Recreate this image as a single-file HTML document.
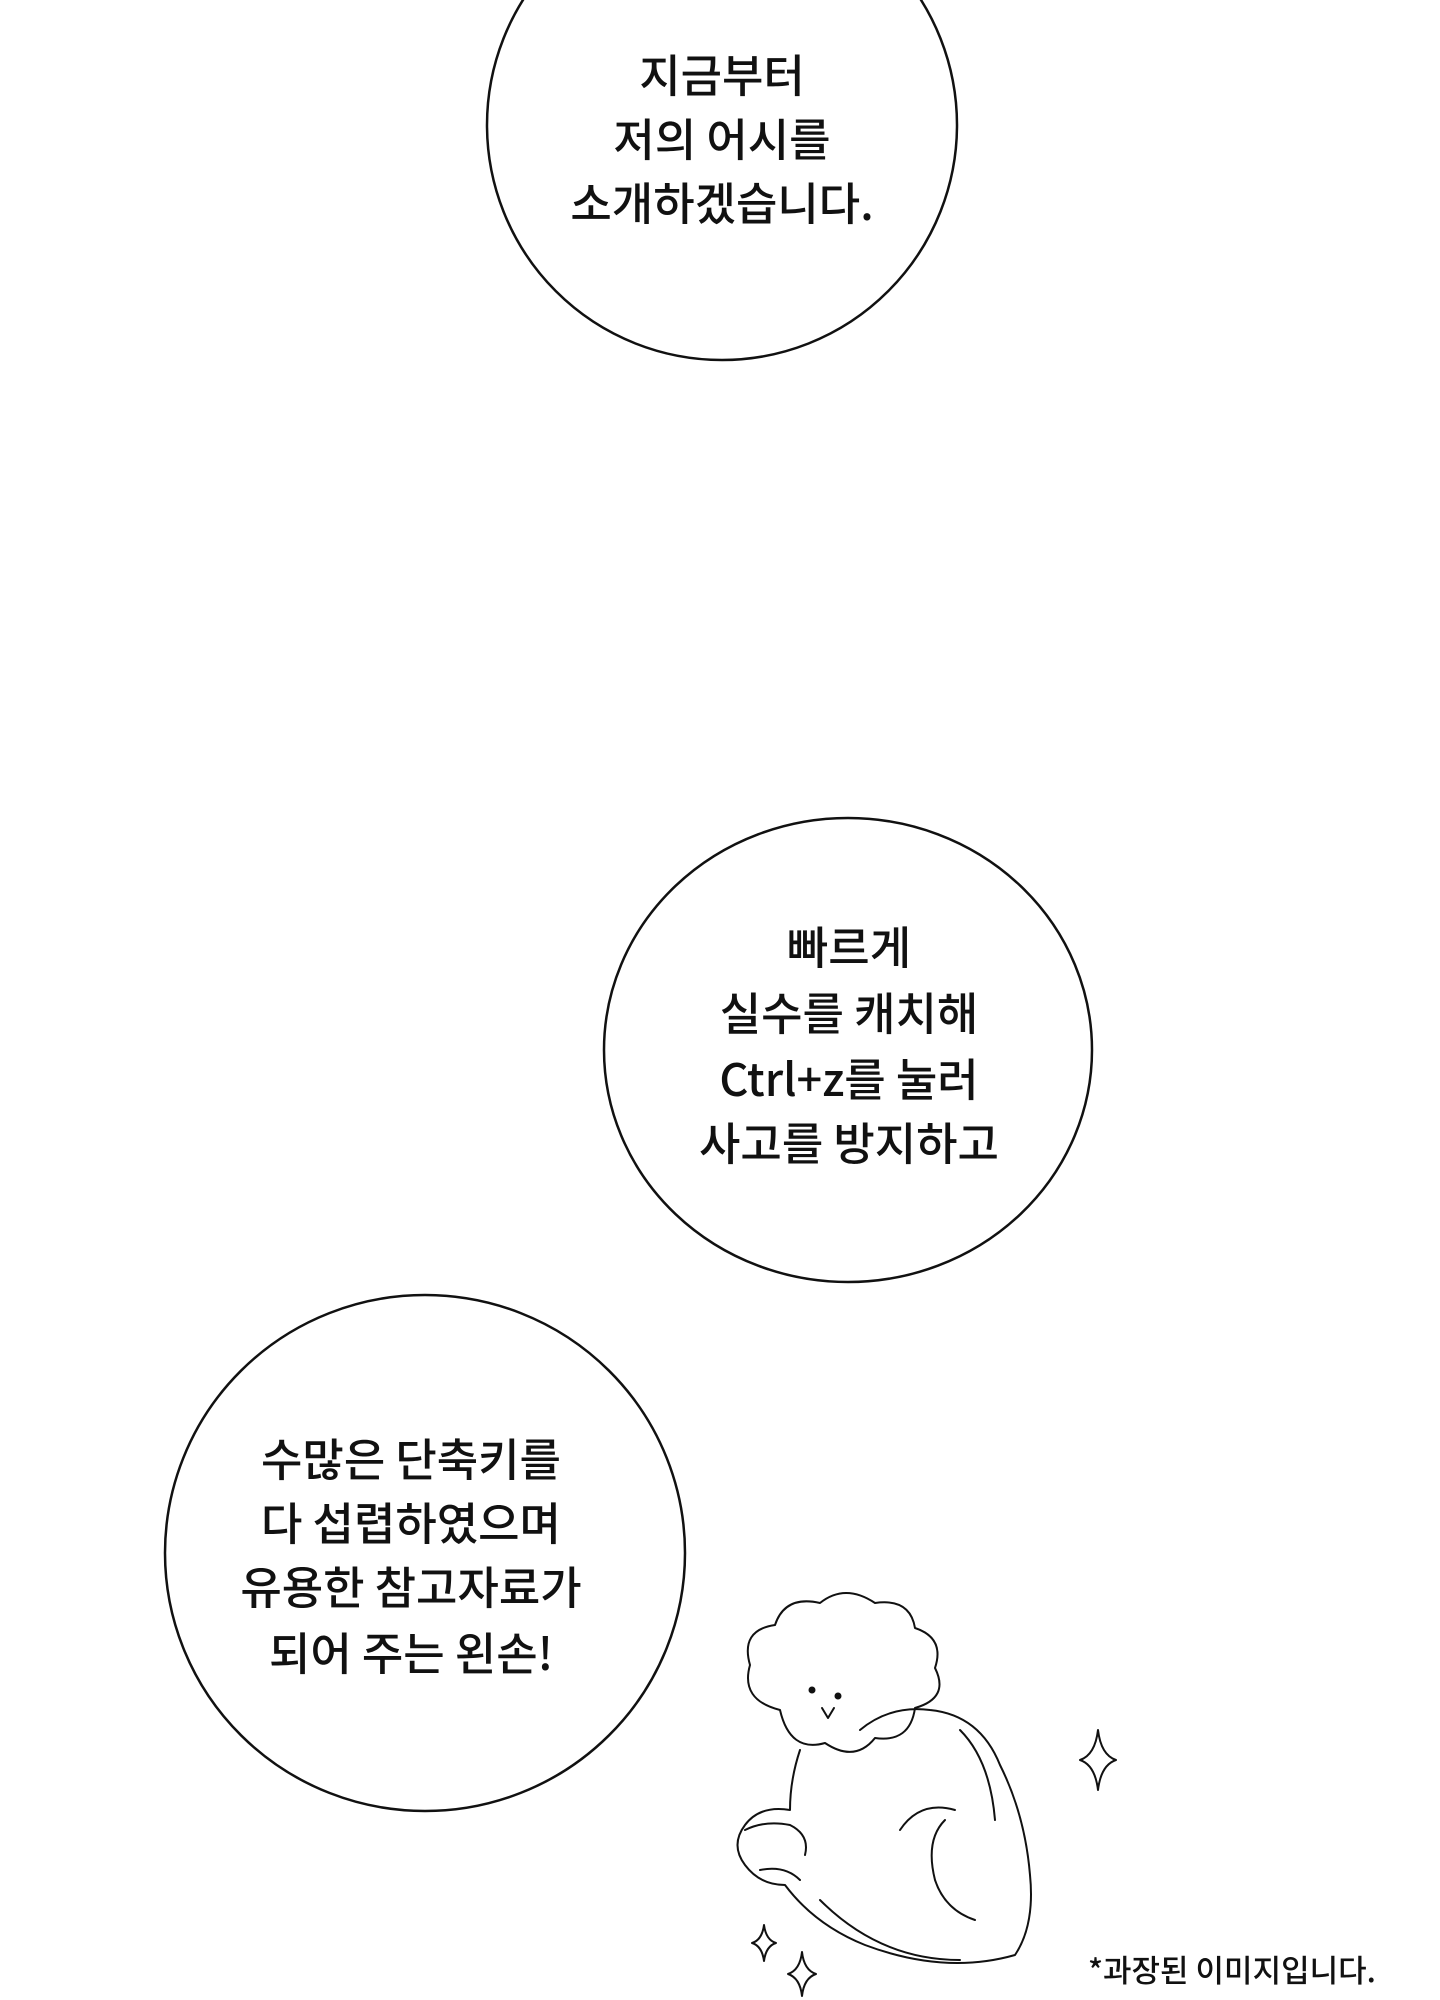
<!DOCTYPE html>
<html><head><meta charset="utf-8"><style>
html,body{margin:0;padding:0;background:#fff;}
svg{display:block}
text{font-family:"Noto Sans CJK KR","Liberation Sans",sans-serif;fill:#111;font-weight:500;}
</style></head><body>
<svg width="1440" height="2000" viewBox="0 0 1440 2000" xmlns="http://www.w3.org/2000/svg">
<g fill="none" stroke="#111" stroke-width="2.5">
<ellipse cx="722" cy="125" rx="235" ry="235"/>
<ellipse cx="848" cy="1050" rx="244" ry="232"/>
<ellipse cx="425" cy="1553" rx="260" ry="258"/>
</g>
<g font-size="45" text-anchor="middle">
<text x="722" y="92">지금부터</text>
<text x="722" y="156">저의 어시를</text>
<text x="722" y="220">소개하겠습니다.</text>
<text x="849" y="964">빠르게</text>
<text x="849" y="1030">실수를 캐치해</text>
<text x="849" y="1096">Ctrl+z를 눌러</text>
<text x="849" y="1160">사고를 방지하고</text>
<text x="411" y="1476">수많은 단축키를</text>
<text x="411" y="1540">다 섭렵하였으며</text>
<text x="411" y="1604">유용한 참고자료가</text>
<text x="411" y="1670">되어 주는 왼손!</text>
</g>
<text x="1088" y="1982" font-size="31">*과장된 이미지입니다.</text>
<g fill="none" stroke="#111" stroke-width="2" stroke-linecap="round" stroke-linejoin="round">
<g transform="translate(0,60)">
<path d="M780 1650 q-40 -10 -30 -45 q-10 -35 25 -40 q10 -30 45 -22 q25 -20 55 0 q35 -5 40 25 q30 10 20 40 q15 30 -20 40 q-5 35 -40 30 q-20 25 -50 5 q-35 10 -45 -33z"/>
<circle cx="812" cy="1630" r="2.5" fill="#111"/>
<circle cx="838" cy="1636" r="2.5" fill="#111"/>
<path d="M822 1648 l6 10 l6 -10"/>
</g>
<path d="M800 1750 q-10 30 -10 60 q-30 -5 -45 15 q-15 20 0 40 q15 20 40 20 q30 40 80 60 q80 30 150 10 q20 -30 15 -80 q-5 -60 -30 -110 q-20 -50 -70 -55 q-40 -5 -70 20"/>
<path d="M960 1730 q30 30 35 90"/>
<path d="M945 1820 q-20 20 -10 60 q10 30 40 40"/>
<path d="M900 1830 q20 -30 55 -20"/>
<path d="M745 1830 q20 -10 45 -5 q20 10 15 30"/>
<path d="M760 1870 q25 -5 40 10"/>
<path d="M820 1900 q60 60 140 60"/>
<path d="M1098 1730 q3 25 18 30 q-15 5 -18 30 q-3 -25 -18 -30 q15 -5 18 -30z"/>
<path d="M764 1925 q2 15 12 18 q-10 3 -12 18 q-2 -15 -12 -18 q10 -3 12 -18z"/>
<path d="M802 1952 q2 18 14 22 q-12 4 -14 22 q-2 -18 -14 -22 q12 -4 14 -22z"/>
</g>
</svg>
</body></html>
